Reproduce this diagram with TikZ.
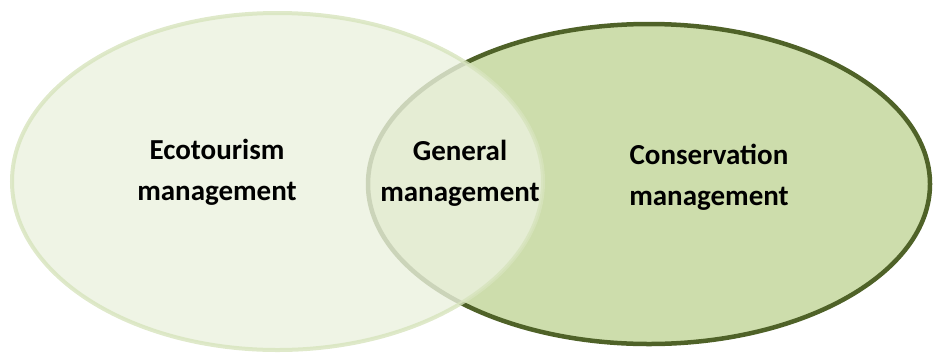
\documentclass[tikz,border=0pt]{standalone}
\usepackage{fontspec}
\setmainfont{Carlito}
\usepackage{tikz}
\usetikzlibrary{shapes.geometric}

\definecolor{olivelight}{HTML}{EBF1DE}
\definecolor{olivepale}{HTML}{D7E4BD}
\definecolor{olivemid}{HTML}{CDDDAC}
\definecolor{olivedark}{HTML}{4F6228}

\begin{document}
\begin{tikzpicture}[x=1pt,y=-1pt]
            \useasboundingbox (0,0) rectangle (933,354);
            \begin{scope}[every node/.style={ellipse,inner sep=0pt,outer sep=0pt}]
                \node[fill=olivemid,draw=olivedark,line width=4.5pt,
                      minimum width=562pt,minimum height=320pt] (cons) at (649,184) {};
                \node[fill=olivelight,draw=olivepale,line width=4pt,opacity=0.8,
                      minimum width=531pt,minimum height=337pt] (eco) at (277.5,181.5) {};
            \end{scope}
            \begin{scope}[every node/.style={font=\bfseries\fontsize{29}{41}\selectfont,align=center,text=black}]
                \node (ecotext) at (217,172) {Ecotourism\\management};
                \node (gentext) at (460,173) {General\\management};
                \node (constext) at (709,177) {Conservation\\management};
            \end{scope}
        \end{tikzpicture}
\end{document}
